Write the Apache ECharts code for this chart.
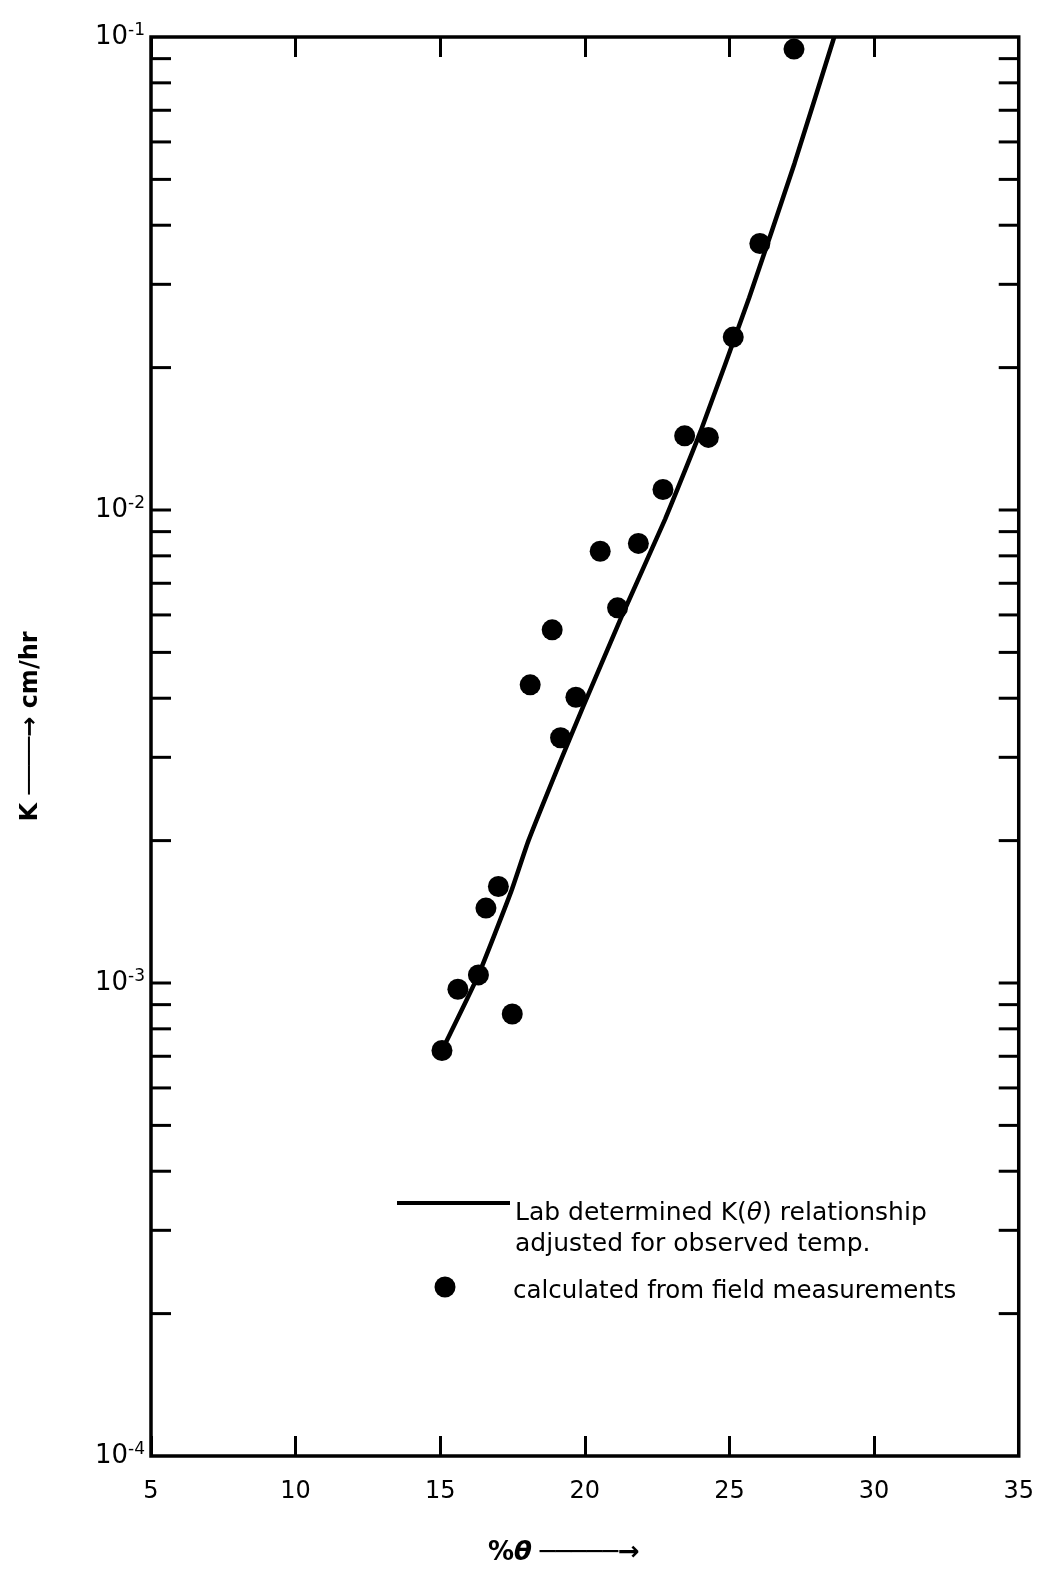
<!DOCTYPE html>
<html>
<head>
<meta charset="utf-8">
<script src="https://cdn.jsdelivr.net/npm/echarts@6/dist/echarts.min.js"></script>
<style>
html,body{margin:0;padding:0;background:#fff;}
#chart{width:1037px;height:1574px;}
</style>
</head>
<body>
<div id="chart"></div>
<script>
// ---- data ----
// field-measured points (%theta, K cm/hr)
const fieldTheta = [27.23, 26.05, 25.13, 23.45, 24.27, 22.70, 21.85, 20.53, 21.13, 18.87, 18.11, 19.69, 19.16, 17.01, 16.58, 16.32, 15.61, 17.49, 15.06];
const fieldK     = [0.0943, 0.0366, 0.0232, 0.01435, 0.01424, 0.01105, 0.0085, 0.00818, 0.00621, 0.00558, 0.00427, 0.00402, 0.0033, 0.0016, 0.00144, 0.00104, 0.00097, 0.00086, 0.00072];
// lab-determined K(theta) curve
const labTheta = [15.06, 16.32, 17.45, 18.05, 19.17, 19.94, 21.28, 22.78, 24.0, 25.68, 27.25, 28.62];
const labK     = [0.00072, 0.00104, 0.00156, 0.0020, 0.00296, 0.00384, 0.00597, 0.00958, 0.01466, 0.0281, 0.0541, 0.1];
// axis ticks
const xTickLabels = ['5', '10', '15', '20', '25', '30', '35'];
const yTickValues = [
  0.0002, 0.0003, 0.0004, 0.0005, 0.0006, 0.0007, 0.0008, 0.0009,
  0.001, 0.002, 0.003, 0.004, 0.005, 0.006, 0.007, 0.008, 0.009,
  0.01, 0.02, 0.03, 0.04, 0.05, 0.06, 0.07, 0.08, 0.09
];
const legendLabels = ['Lab determined K({i|θ}) relationship', 'adjusted for observed temp.', 'calculated from field measurements'];

// ---- chart ----
const FONT = 'DejaVu Sans';
const chart = echarts.init(document.getElementById('chart'), null, {renderer: 'canvas'});

const option = {
  backgroundColor: '#ffffff',
  animation: false,
  grid: {left: 151, right: 16, top: 37, bottom: 118, show: true, borderColor: '#000', borderWidth: 3.5, backgroundColor: 'transparent'},
  xAxis: [
    {
      type: 'value', min: 5, max: 35, interval: 5, position: 'bottom',
      axisLine: {show: false},
      axisTick: {inside: true, length: 20, lineStyle: {width: 3, color: '#000'}},
      axisLabel: {color: '#000', fontSize: 24, fontFamily: FONT, margin: 24,
        formatter: function (v) { return xTickLabels[Math.round((v - 5) / 5)]; }},
      splitLine: {show: false},
      name: '{n|%}{i|θ}{g| }{n|─────→}',
      nameLocation: 'middle', nameGap: 84,
      nameTextStyle: {padding: [0, 42, 0, 0],
        rich: {n: {fontSize: 26, fontFamily: FONT, fontWeight: 'bold', color: '#000'},
               g: {fontSize: 26, fontFamily: FONT, width: 8},
               i: {fontSize: 26, fontFamily: FONT, fontWeight: 'bold', fontStyle: 'italic', color: '#000'}}}
    },
    {
      type: 'value', min: 5, max: 35, interval: 5, position: 'top',
      axisLine: {show: false},
      axisTick: {inside: true, length: 20, lineStyle: {width: 3, color: '#000'}},
      axisLabel: {show: false},
      splitLine: {show: false}
    }
  ],
  yAxis: {
    type: 'log', logBase: 10, min: 0.0001, max: 0.1,
    axisLine: {show: false},
    axisTick: {show: false},
    splitLine: {show: false},
    axisLabel: {
      margin: 6,
      formatter: function (v) { return '{b|10}{s|' + Math.round(Math.log10(v)) + '}'; },
      rich: {
        b: {fontSize: 26, fontFamily: FONT, color: '#000', lineHeight: 30},
        s: {fontSize: 17, fontFamily: FONT, color: '#000', verticalAlign: 'top', lineHeight: 17}
      }
    },
    name: 'K ────→ cm/hr',
    nameLocation: 'middle', nameRotate: 90, nameGap: 108,
    nameTextStyle: {fontSize: 24, fontFamily: FONT, fontWeight: 'bold', color: '#000', padding: [0, 0, 0, 40]}
  },
  series: [
    {
      type: 'custom',
      name: 'yticks',
      silent: true,
      clip: false,
      xAxisIndex: 0, yAxisIndex: 0,
      data: yTickValues.map(function (v) { return [5, v]; }),
      encode: {x: 0, y: 1},
      renderItem: function (params, api) {
        const cs = params.coordSys;
        const p = api.coord([5, api.value(1)]);
        const y = p[1];
        const len = 20;
        const st = {stroke: '#000', lineWidth: 3};
        return {type: 'group', children: [
          {type: 'line', shape: {x1: cs.x, y1: y, x2: cs.x + len, y2: y}, style: st},
          {type: 'line', shape: {x1: cs.x + cs.width - len, y1: y, x2: cs.x + cs.width, y2: y}, style: st}
        ]};
      },
      z: 3
    },
    {
      type: 'line',
      name: 'lab',
      data: labTheta.map(function (t, i) { return [t, labK[i]]; }),
      symbol: 'none',
      smooth: 0.15,
      lineStyle: {color: '#000', width: 4.5},
      clip: true,
      z: 4
    },
    {
      type: 'scatter',
      name: 'field',
      data: fieldTheta.map(function (t, i) { return [t, fieldK[i]]; }),
      symbol: 'circle',
      symbolSize: 21,
      itemStyle: {color: '#000', opacity: 1},
      z: 5
    }
  ],
  graphic: [
    {type: 'line', shape: {x1: 397, y1: 1203, x2: 510, y2: 1203}, style: {stroke: '#000', lineWidth: 4}},
    {type: 'circle', shape: {cx: 445, cy: 1287, r: 10.5}, style: {fill: '#000'}},
    {type: 'text', x: 515, y: 1213, style: {text: legendLabels[0], fill: '#000', font: '25px "DejaVu Sans"', verticalAlign: 'middle',
      rich: {i: {fontStyle: 'italic', fontSize: 25, fontFamily: FONT, fill: '#000'}}}},
    {type: 'text', x: 515, y: 1244, style: {text: legendLabels[1], fill: '#000', font: '25px "DejaVu Sans"', verticalAlign: 'middle'}},
    {type: 'text', x: 513, y: 1292, style: {text: legendLabels[2], fill: '#000', font: '24.5px "DejaVu Sans"', verticalAlign: 'middle'}}
  ]
};
chart.setOption(option);
</script>
</body>
</html>
